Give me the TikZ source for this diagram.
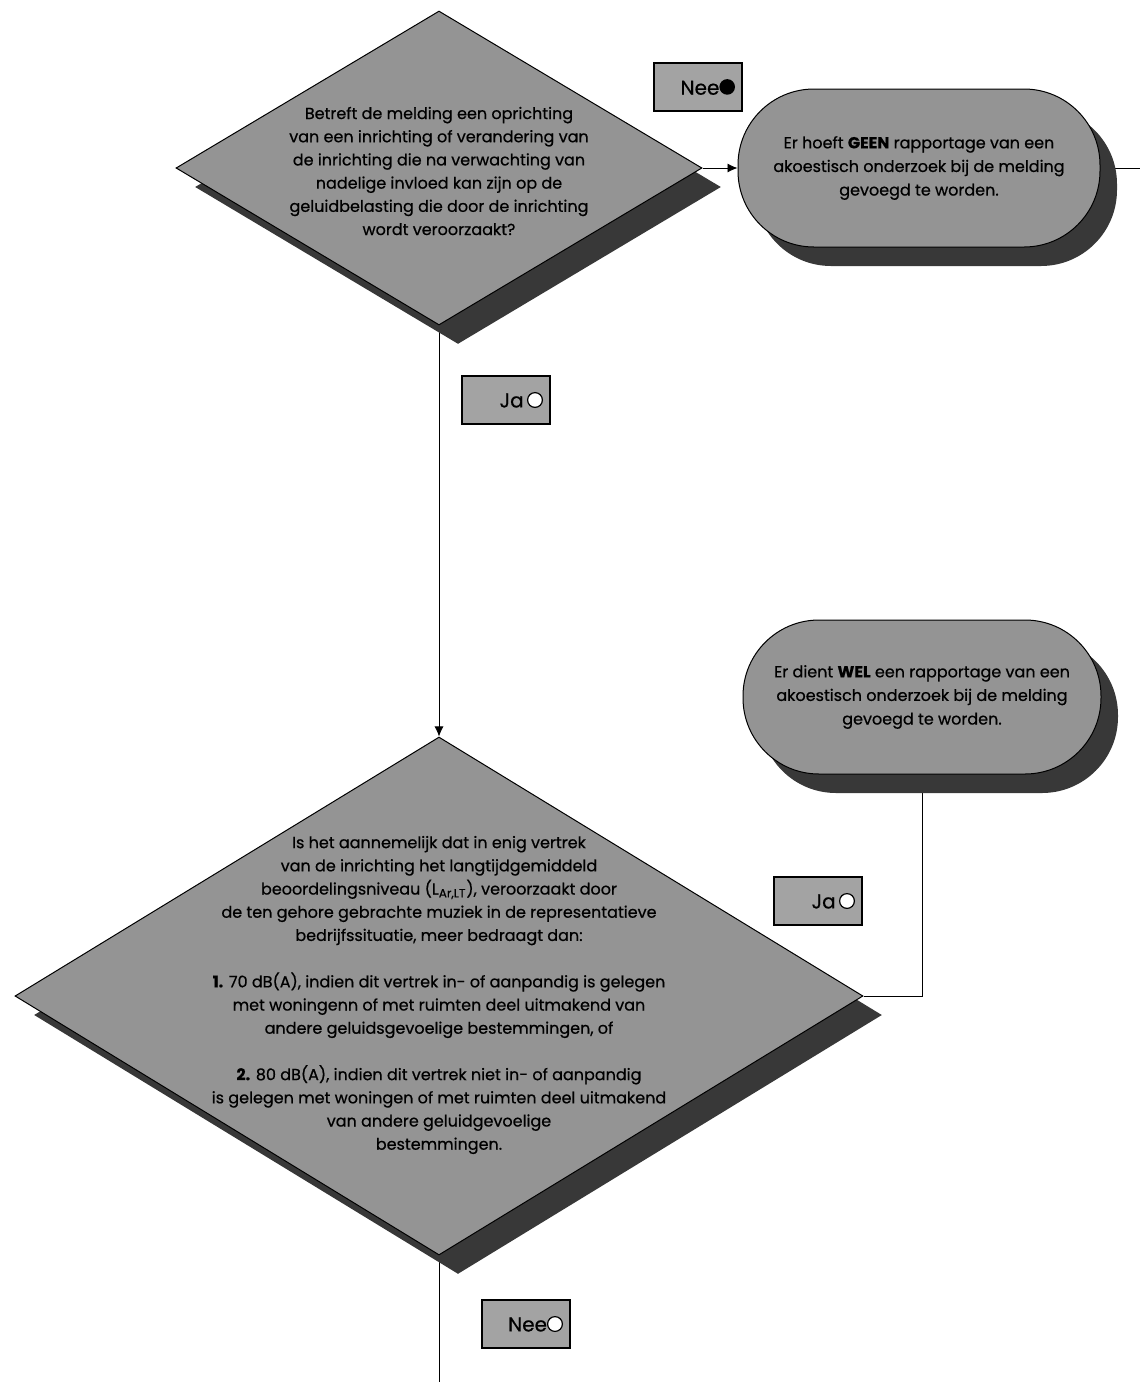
\documentclass[tikz,border=0pt]{standalone}
\usepackage{fontspec}
\setmainfont{Poppins}[FakeBold=0.6]
\usetikzlibrary{shapes.geometric,shadows,arrows.meta,backgrounds}

\definecolor{panelgray}{gray}{0.58}
\definecolor{shadegray}{gray}{0.22}
\definecolor{taggray}{gray}{0.64}

\newcommand{\opendot}{\tikz[baseline=-3.7pt]\draw[draw=black,fill=white,line width=0.6pt] (0,0) circle (3.7pt);}
\newcommand{\fulldot}{\tikz[baseline=-3.9pt]\fill[black] (0,0) circle (3.9pt);}

\tikzset{
	question/.style={diamond, draw, line width=0.5pt, fill=panelgray, inner sep=0pt,
		drop shadow={shadow xshift=9.5pt, shadow yshift=-9.5pt, fill=shadegray, opacity=1}},
	endbox/.style={rectangle, rounded corners=38pt, draw, line width=0.5pt, fill=panelgray,
		minimum width=181pt, minimum height=79pt, align=center,
		font=\fontsize{8}{11.8}\selectfont,
		drop shadow={shadow xshift=8.5pt, shadow yshift=-9.5pt, fill=shadegray, opacity=1}},
	bodytext/.style={align=center, font=\fontsize{8}{11.6}\selectfont},
	tag/.style={draw, line width=0.6pt, fill=taggray, minimum width=44pt, minimum height=24pt,
		text width=37pt, inner xsep=3.5pt, align=right, font=\fontsize{10}{12}\selectfont},
}

\begin{document}
\begin{tikzpicture}[x=0.5pt, y=-0.5pt, >={Latex[length=5pt,width=4.5pt]}]
	%\draw [help lines] (0,0) grid (1140,1382);
	\useasboundingbox (0,0) rectangle (1140,1382);

	\node [question, minimum width=263pt, minimum height=157pt] (q1) at (439,168) {};
	\node [bodytext] (q1text) at (439,171) {Betreft de melding een oprichting\\
		van een inrichting of verandering van\\de inrichting die na verwachting van\\
		nadelige invloed kan zijn op de\\geluidbelasting die door de inrichting\\
		wordt veroorzaakt?};

	\node [endbox] (geen) at (919,168) {Er hoeft \textbf{GEEN} rapportage van een\\
		akoestisch onderzoek bij de melding\\gevoegd te worden.};
	\node [endbox, minimum width=179pt, minimum height=77pt] (wel) at (922,697)
		{Er dient \textbf{WEL} een rapportage van een\\
		akoestisch onderzoek bij de melding\\gevoegd te worden.};

	\node [question, minimum width=424pt, minimum height=259pt] (q2) at (439,996) {};
	\node [bodytext] (q2text) at (439,995) {Is het aannemelijk dat in enig vertrek\\
		van de inrichting het langtijdgemiddeld\\
		beoordelingsniveau (L\textsubscript{Ar,LT}), veroorzaakt door\\
		de ten gehore gebrachte muziek in de representatieve\\
		bedrijfssituatie, meer bedraagt dan:\\[11.6pt]
		\textbf{1.} 70 dB(A), indien dit vertrek in- of aanpandig is gelegen\\
		met woningenn of met ruimten deel uitmakend van\\
		andere geluidsgevoelige bestemmingen, of\\[11.6pt]
		\textbf{2.} 80 dB(A), indien dit vertrek niet in- of aanpandig\\
		is gelegen met woningen of met ruimten deel uitmakend\\
		van andere geluidgevoelige\\bestemmingen.};

	\node [tag] (nee1) at (698,87) {Nee\fulldot};
	\node [tag] (ja1) at (506,400) {Ja\,\opendot\hspace{2pt}};
	\node [tag] (ja2) at (818,901) {Ja\,\opendot\hspace{3pt}};
	\node [tag] (nee2) at (526,1324) {Nee\opendot\hspace{1pt}};

	\coordinate (exit) at (1140,168);
	\coordinate (down) at (439,1382);

	\begin{scope}[on background layer, line width=0.6pt]
		\draw [->] (q1) -- (geen);
		\draw [->] (q1) -- (q2);
		\draw (geen.east) -- (exit);
		\draw (q2.east) -| (wel.south);
		\draw (q2.south) -- (down);
	\end{scope}
\end{tikzpicture}
\end{document}
